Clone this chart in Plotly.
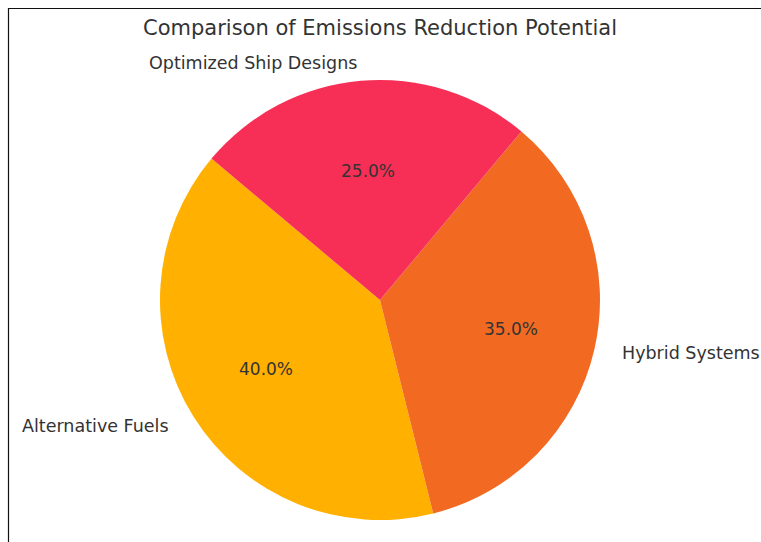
import math
import plotly.graph_objects as go

categories = ["Alternative Fuels", "Hybrid Systems", "Optimized Ship Designs"]
values = [40, 35, 25]
colors = ["#FFB000", "#F26A22", "#F72F56"]
title_text = "Comparison of Emissions Reduction Potential"

W, H = 761, 542
cx, cy = 380, 300        # pie centre in px (from top)
rx, ry = 224, 216        # apparent radii in reference
r = 220
start_deg = 140          # matplotlib-style start angle (ccw from 3 o'clock)

total = sum(values)
first_span = 360 * values[0] / total
# plotly (counterclockwise): first slice occupies [rotation, rotation + span] clockwise from top
rotation = (-(start_deg - 90) - first_span) % 360

fig = go.Figure()
fig.add_trace(go.Pie(
    labels=categories, values=values, sort=False,
    direction="counterclockwise", rotation=rotation,
    marker=dict(colors=colors, line=dict(width=0)),
    textinfo="none", hoverinfo="label+percent", showlegend=False,
    domain=dict(x=[(cx - r) / W, (cx + r) / W],
                y=[(H - cy - r) / H, (H - cy + r) / H]),
))

ang = start_deg
annotations = []
for lab, v in zip(categories, values):
    span = 360 * v / total
    mid = math.radians(ang + span / 2)
    ang += span
    px = cx + 0.6 * rx * math.cos(mid)
    py = cy - 0.6 * ry * math.sin(mid)
    annotations.append(dict(x=px / W, y=1 - py / H, xref="paper", yref="paper",
                            text=f"{100 * v / total:.1f}%", showarrow=False,
                            xanchor="center", yanchor="middle",
                            font=dict(family="DejaVu Sans", size=17, color="#333333")))
    lx = cx + 1.1 * rx * math.cos(mid)
    ly = cy - 1.1 * ry * math.sin(mid)
    annotations.append(dict(x=lx / W, y=1 - ly / H, xref="paper", yref="paper",
                            text=lab, showarrow=False,
                            xanchor="left" if math.cos(mid) > 0 else "right",
                            yanchor="middle",
                            font=dict(family="DejaVu Sans", size=17.5, color="#333333")))

annotations.append(dict(x=380 / W, y=1 - 28 / H, xref="paper", yref="paper",
                        text=title_text, showarrow=False, xanchor="center", yanchor="middle",
                        font=dict(family="DejaVu Sans", size=21, color="#333333")))

fig.update_layout(
    width=W, height=H, autosize=False,
    margin=dict(l=0, r=0, t=0, b=0),
    paper_bgcolor="white", plot_bgcolor="white",
    annotations=annotations,
    shapes=[dict(type="rect", xref="paper", yref="paper",
                 x0=8.5 / W, x1=1.2, y0=-0.2, y1=1 - 8.5 / H,
                 line=dict(color="#111111", width=1.2), fillcolor="rgba(0,0,0,0)", layer="above")],
)

fig.write_html("out.html")
